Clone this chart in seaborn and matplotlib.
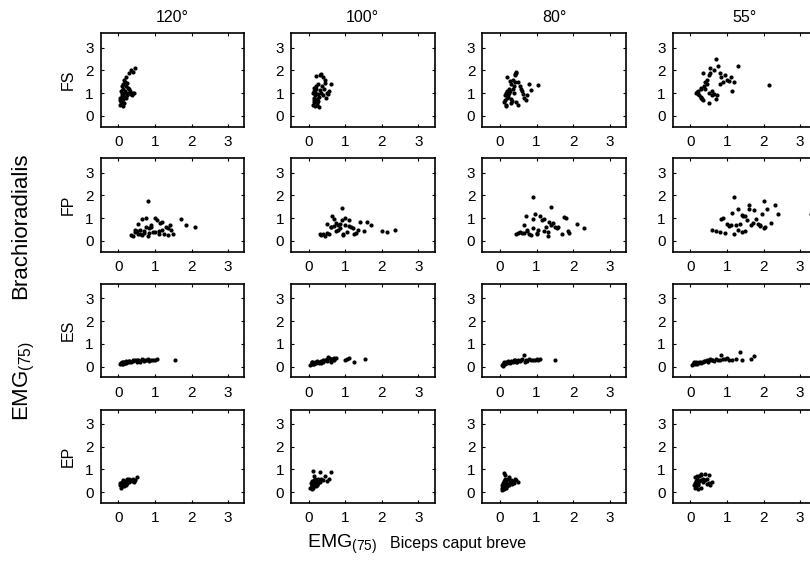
import matplotlib
matplotlib.use("Agg")
import matplotlib.pyplot as plt
import seaborn as sns
import pandas as pd

sns.set_style("ticks")
plt.rcParams["font.family"] = ["Liberation Sans", "DejaVu Sans"]
plt.rcParams["mathtext.default"] = "regular"
plt.rcParams["text.color"] = "black"
plt.rcParams["axes.labelcolor"] = "black"
plt.rcParams["xtick.color"] = "black"
plt.rcParams["ytick.color"] = "black"

angles = ["120°", "100°", "80°", "55°"]
conditions = ["FS", "FP", "ES", "EP"]
ticks = [0, 1, 2, 3]

# ---- FS ----
fs_120_x = [0.05,0.08,0.1,0.12,0.06,0.09,0.15,0.11,0.07,0.13,0.1,0.08,0.14,0.18,0.2,0.12,0.16,0.22,0.25,0.3,0.35,0.4,0.28,0.33,0.38,0.42,0.2,0.15,0.1,0.09,0.25,0.3,0.36,0.45,0.4,0.18,0.12,0.22,0.27,0.06]
fs_120_y = [0.5,0.6,0.7,0.45,0.8,0.9,0.55,1.0,1.1,1.2,1.3,0.65,1.4,1.5,1.7,0.75,0.85,1.0,0.9,1.0,0.95,1.0,1.2,1.1,0.9,1.0,1.3,1.6,0.6,0.85,1.45,1.9,2.0,2.1,1.95,1.1,0.95,0.8,1.25,0.7]
fs_100_x = [0.12,0.15,0.18,0.2,0.14,0.17,0.22,0.25,0.13,0.16,0.19,0.21,0.24,0.28,0.3,0.35,0.4,0.45,0.5,0.55,0.6,0.42,0.38,0.33,0.27,0.23,0.16,0.2,0.26,0.32,0.48,0.52,0.36,0.18,0.14,0.22,0.29,0.44]
fs_100_y = [0.5,0.6,0.45,0.7,0.8,0.9,0.55,0.65,1.0,1.1,1.2,1.3,0.75,0.85,1.8,1.85,1.7,1.6,1.0,1.1,1.4,1.2,0.9,1.0,0.95,0.6,1.25,1.75,1.4,1.15,0.8,0.95,1.3,1.05,0.7,0.5,0.4,1.45]
fs_80_x = [0.12,0.15,0.18,0.2,0.22,0.25,0.28,0.3,0.33,0.35,0.38,0.4,0.42,0.45,0.15,0.18,0.2,0.25,0.3,0.35,0.4,0.45,0.5,0.55,0.6,0.65,0.7,0.75,0.8,1.05,0.5,0.58,0.3,0.22,0.27,0.38,0.45,0.62,0.85,0.2,0.16]
fs_80_y = [0.6,0.7,0.5,0.8,0.9,1.0,1.1,0.55,0.65,1.2,1.3,1.5,1.8,1.9,0.9,1.0,1.1,1.2,1.4,1.6,1.85,1.95,1.5,1.3,1.1,0.8,0.7,0.9,1.4,1.35,0.5,1.2,0.75,0.85,1.55,1.0,0.6,0.95,1.15,1.7,0.45]
fs_55_x = [0.15,0.2,0.25,0.3,0.35,0.18,0.22,0.28,0.32,0.4,0.45,0.5,0.55,0.35,0.4,0.5,0.6,0.65,0.7,0.75,0.8,0.85,0.9,1.0,1.1,1.2,1.3,0.3,0.45,0.6,0.7,0.55,0.8,1.05,1.15,2.15,0.65,0.5,0.38,0.28,0.95,0.72]
fs_55_y = [1.0,0.95,0.9,0.8,0.7,1.05,1.1,0.85,0.75,1.2,1.6,1.8,2.1,1.9,1.5,0.55,1.1,0.95,2.5,2.2,1.9,1.7,1.5,1.6,1.7,1.5,2.2,1.2,1.4,0.9,0.75,1.9,1.4,1.55,1.1,1.35,2.0,1.0,1.3,1.25,1.8,0.9]

# ---- FP ----
fp_120_x = [0.35,0.4,0.45,0.5,0.55,0.6,0.65,0.7,0.75,0.8,0.85,0.9,0.95,1.0,1.05,1.1,1.15,1.2,1.25,1.3,1.35,1.4,1.45,1.5,1.7,1.85,2.1,0.8,0.55,0.75,1.0,1.1,0.6,0.9,1.2,0.7,0.45,0.65,1.35,0.85]
fp_120_y = [0.25,0.2,0.4,0.45,0.3,0.5,0.95,0.35,1.0,0.2,0.55,0.6,0.4,1.0,0.9,0.45,0.8,0.5,0.3,0.6,0.25,0.7,0.5,0.3,0.95,0.7,0.6,1.75,0.75,0.6,0.4,0.3,0.3,0.7,0.85,0.45,0.5,0.25,0.55,0.35]
fp_100_x = [0.3,0.35,0.4,0.45,0.5,0.55,0.6,0.65,0.7,0.75,0.8,0.85,0.9,0.95,1.0,1.05,1.1,1.15,1.2,1.3,1.4,1.5,1.6,1.7,2.0,2.15,2.35,0.9,0.8,0.95,1.0,0.7,0.6,1.25,1.35,0.85,1.1,0.75,0.5]
fp_100_y = [0.3,0.25,0.3,0.2,0.35,0.3,0.6,1.1,0.65,0.8,0.7,0.55,0.9,0.3,1.0,0.4,0.9,0.6,0.55,0.35,0.85,0.45,0.85,0.7,0.45,0.4,0.5,1.45,0.5,0.25,0.7,0.95,0.6,0.3,0.5,0.75,0.65,0.45,0.75]
fp_80_x = [0.45,0.5,0.55,0.6,0.65,0.7,0.75,0.8,0.85,0.9,0.95,1.0,1.05,1.1,1.15,1.2,1.25,1.3,1.35,1.4,1.45,1.5,1.55,1.6,1.7,1.8,1.85,1.9,2.1,2.3,0.9,0.9,1.4,1.0,1.2,0.75,0.65,1.3,1.75]
fp_80_y = [0.3,0.35,0.4,0.35,0.7,1.1,0.5,0.3,0.25,0.55,1.2,0.35,0.5,1.1,0.9,0.45,0.6,0.4,0.85,0.7,0.8,0.6,0.55,0.6,0.3,1.0,0.45,0.35,0.75,0.55,1.95,0.95,1.5,0.3,0.95,0.45,0.35,0.2,1.05]
fp_55_x = [0.6,0.7,0.8,0.85,0.9,1.0,1.05,1.1,1.15,1.2,1.25,1.3,1.35,1.4,1.45,1.5,1.55,1.6,1.65,1.7,1.8,1.85,1.9,1.95,2.0,2.05,2.1,2.2,2.3,2.4,3.3,1.2,1.6,1.9,1.5,0.95,1.3,1.4,1.75,2.0]
fp_55_y = [0.5,0.45,0.4,0.95,1.0,0.75,0.65,0.7,1.25,0.3,0.7,1.4,0.75,0.4,1.1,0.45,0.9,1.6,0.7,0.8,0.95,0.75,0.7,1.2,0.55,0.6,1.4,0.8,1.6,1.2,1.2,1.95,1.4,0.65,1.1,0.35,0.5,1.15,1.35,1.75]

# ---- ES ----
es_120_x = [0.05,0.08,0.1,0.12,0.15,0.18,0.2,0.22,0.25,0.28,0.3,0.35,0.4,0.45,0.5,0.55,0.6,0.65,0.7,0.75,0.8,0.85,0.9,0.95,1.0,1.05,1.55,0.1,0.15,0.2,0.3,0.4,0.5,0.6,0.7,0.8,0.07,0.12]
es_120_y = [0.1,0.15,0.12,0.2,0.15,0.18,0.2,0.17,0.2,0.22,0.25,0.2,0.25,0.28,0.22,0.3,0.25,0.35,0.3,0.28,0.32,0.25,0.3,0.28,0.3,0.32,0.28,0.2,0.22,0.25,0.27,0.3,0.3,0.22,0.25,0.3,0.18,0.12]
es_100_x = [0.05,0.08,0.1,0.12,0.15,0.18,0.2,0.25,0.3,0.35,0.4,0.45,0.5,0.55,0.6,0.65,0.7,0.75,1.0,1.05,1.1,1.25,1.55,0.1,0.15,0.22,0.28,0.4,0.5,0.6,0.7,0.52,0.62,0.35,0.08]
es_100_y = [0.08,0.1,0.15,0.12,0.18,0.2,0.15,0.2,0.22,0.25,0.2,0.3,0.35,0.4,0.25,0.35,0.3,0.38,0.3,0.35,0.4,0.2,0.35,0.2,0.1,0.25,0.18,0.3,0.25,0.2,0.4,0.42,0.33,0.15,0.2]
es_80_x = [0.05,0.08,0.1,0.12,0.15,0.18,0.2,0.25,0.3,0.35,0.4,0.45,0.5,0.55,0.6,0.65,0.7,0.75,0.8,0.9,1.0,1.05,1.1,1.5,0.1,0.15,0.22,0.28,0.38,0.48,0.58,0.68,0.85,0.95,0.08]
es_80_y = [0.08,0.12,0.15,0.1,0.18,0.2,0.15,0.2,0.25,0.22,0.28,0.2,0.3,0.25,0.35,0.5,0.3,0.25,0.35,0.3,0.32,0.3,0.35,0.28,0.2,0.12,0.25,0.15,0.3,0.22,0.28,0.2,0.28,0.3,0.05]
es_55_x = [0.05,0.08,0.1,0.12,0.15,0.2,0.25,0.3,0.35,0.4,0.45,0.5,0.55,0.6,0.65,0.7,0.8,0.85,0.9,1.0,1.05,1.15,1.25,1.35,1.4,1.65,1.75,0.1,0.18,0.28,0.38,0.48,0.58,0.75,0.95,0.15]
es_55_y = [0.08,0.12,0.15,0.1,0.15,0.18,0.2,0.22,0.2,0.25,0.3,0.28,0.32,0.3,0.25,0.35,0.3,0.5,0.35,0.4,0.3,0.3,0.35,0.65,0.3,0.35,0.45,0.2,0.12,0.18,0.25,0.22,0.3,0.28,0.32,0.22]

# ---- EP ----
ep_120_x = [0.05,0.08,0.1,0.12,0.15,0.18,0.2,0.22,0.25,0.28,0.3,0.35,0.4,0.45,0.5,0.07,0.1,0.13,0.16,0.2,0.24,0.3,0.38,0.42,0.12,0.09,0.06,0.15,0.2,0.25]
ep_120_y = [0.3,0.35,0.4,0.45,0.5,0.4,0.35,0.45,0.5,0.55,0.6,0.55,0.6,0.55,0.65,0.2,0.25,0.3,0.25,0.3,0.4,0.45,0.5,0.45,0.55,0.45,0.4,0.35,0.5,0.6]
ep_100_x = [0.05,0.08,0.1,0.12,0.15,0.18,0.2,0.22,0.25,0.3,0.35,0.4,0.45,0.5,0.55,0.6,0.1,0.14,0.18,0.08,0.12,0.16,0.2,0.25,0.3,0.12,0.1,0.15,0.06,0.22]
ep_100_y = [0.2,0.25,0.3,0.35,0.4,0.45,0.5,0.35,0.4,0.9,0.6,0.55,0.7,0.5,0.6,0.9,0.15,0.55,0.6,0.35,0.2,0.3,0.25,0.6,0.45,0.95,0.5,0.7,0.4,0.3]
ep_80_x = [0.05,0.08,0.1,0.12,0.15,0.18,0.2,0.22,0.25,0.3,0.35,0.4,0.45,0.5,0.1,0.14,0.06,0.08,0.12,0.16,0.2,0.28,0.38,0.15,0.1,0.07,0.24,0.33,0.18]
ep_80_y = [0.2,0.25,0.3,0.35,0.4,0.5,0.35,0.6,0.3,0.55,0.5,0.6,0.55,0.45,0.85,0.75,0.1,0.4,0.15,0.2,0.25,0.45,0.4,0.6,0.5,0.3,0.65,0.35,0.3]
ep_55_x = [0.1,0.12,0.15,0.18,0.2,0.22,0.25,0.28,0.3,0.35,0.4,0.45,0.5,0.55,0.6,0.12,0.15,0.2,0.25,0.3,0.4,0.5,0.18,0.14,0.22,0.35,0.28,0.45]
ep_55_y = [0.3,0.4,0.5,0.6,0.45,0.35,0.7,0.8,0.75,0.6,0.55,0.35,0.4,0.3,0.45,0.2,0.25,0.15,0.5,0.55,0.8,0.75,0.7,0.65,0.3,0.45,0.2,0.6]

panels = {
    ("FS", "120°"): (fs_120_x, fs_120_y), ("FS", "100°"): (fs_100_x, fs_100_y),
    ("FS", "80°"): (fs_80_x, fs_80_y), ("FS", "55°"): (fs_55_x, fs_55_y),
    ("FP", "120°"): (fp_120_x, fp_120_y), ("FP", "100°"): (fp_100_x, fp_100_y),
    ("FP", "80°"): (fp_80_x, fp_80_y), ("FP", "55°"): (fp_55_x, fp_55_y),
    ("ES", "120°"): (es_120_x, es_120_y), ("ES", "100°"): (es_100_x, es_100_y),
    ("ES", "80°"): (es_80_x, es_80_y), ("ES", "55°"): (es_55_x, es_55_y),
    ("EP", "120°"): (ep_120_x, ep_120_y), ("EP", "100°"): (ep_100_x, ep_100_y),
    ("EP", "80°"): (ep_80_x, ep_80_y), ("EP", "55°"): (ep_55_x, ep_55_y),
}

W, H = 810, 563
fig = plt.figure(figsize=(W / 100, H / 100), dpi=100)

col_left = [100.7, 291.0, 482.3, 672.7]
row_top = [33.3, 158.3, 284.0, 409.5]
aw, ah = 143.6, 93.4

for r, cond in enumerate(conditions):
    for c, ang in enumerate(angles):
        x, y = panels[(cond, ang)]
        df = pd.DataFrame({"x": x, "y": y})
        ax = fig.add_axes([col_left[c] / W, 1 - (row_top[r] + ah) / H, aw / W, ah / H])
        sns.scatterplot(data=df, x="x", y="y", ax=ax, color="black", s=9,
                        linewidth=0, legend=False)
        ax.set_xlim(-0.48, 3.44)
        ax.set_ylim(-0.47, 3.63)
        ax.set_xticks(ticks)
        ax.set_yticks(ticks)
        ax.tick_params(direction="in", length=2.5, width=0.8, top=True, right=True,
                       labelsize=11, color="black", labelcolor="black")
        ax.tick_params(axis="x", pad=6)
        ax.tick_params(axis="y", pad=5)
        for sp in ax.spines.values():
            sp.set_visible(True)
            sp.set_linewidth(1.2)
            sp.set_color("black")
        ax.set_xlabel("")
        if c == 0:
            ax.set_ylabel(cond, fontsize=11.5, labelpad=7)
        else:
            ax.set_ylabel("")
        if r == 0:
            ax.set_title(ang, fontsize=11.5, pad=8)

# global y label (rotated)
fig.text(24 / W, 1 - 421 / H, "EMG$_{(75)}$", rotation=90,
         ha="center", va="bottom", fontsize=16)
fig.text(21 / W, 1 - 299 / H, "Brachioradialis", rotation=90,
         ha="center", va="bottom", fontsize=16)
# global x label
fig.text(307 / W, 1 - 548 / H, "EMG$_{(75)}$", ha="left", va="baseline", fontsize=14)
fig.text(390 / W, 1 - 548 / H, "Biceps caput breve", ha="left", va="baseline",
         fontsize=11.5)

fig.savefig("out.png", dpi=100)
